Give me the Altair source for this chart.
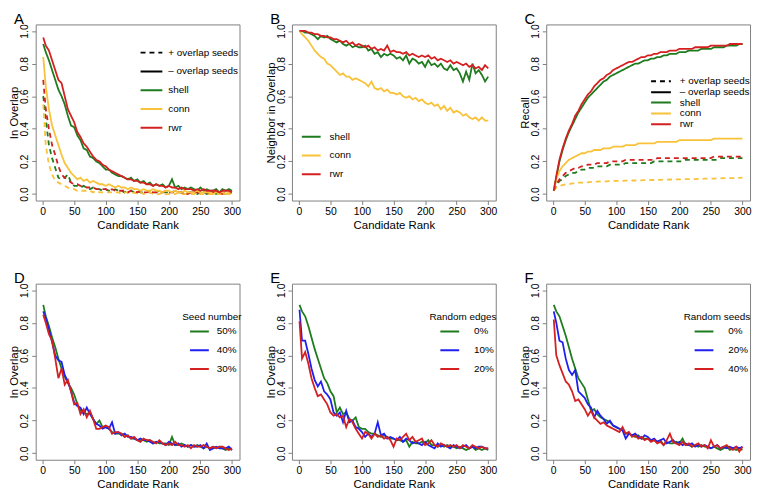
import altair as alt
import pandas as pd

# ---------------- data ----------------
RANK = [1] + list(range(5, 301, 5))

X_TICKS = [0, 50, 100, 150, 200, 250, 300]
Y_TICKS = [0.0, 0.2, 0.4, 0.6, 0.8, 1.0]

METHODS = ["shell", "conn", "rwr"]
DASH_NAMES = ["+ overlap seeds", "\u2013 overlap seeds"]

# Panel A: In Overlap
A_SHELL = [0.92, 0.87, 0.82, 0.76, 0.70, 0.64, 0.60, 0.55, 0.48, 0.42,
           0.41, 0.36, 0.33, 0.28, 0.27, 0.23, 0.22, 0.20, 0.19, 0.17,
           0.15, 0.15, 0.13, 0.12, 0.11, 0.11, 0.10, 0.09, 0.10, 0.08,
           0.09, 0.07, 0.08, 0.06, 0.07, 0.05, 0.06, 0.05, 0.06, 0.04,
           0.05, 0.09, 0.04, 0.05, 0.03, 0.04, 0.03, 0.04, 0.03, 0.02,
           0.04, 0.02, 0.03, 0.02, 0.02, 0.03, 0.01, 0.03, 0.02, 0.03,
           0.02]
A_CONN = [0.84, 0.66, 0.52, 0.42, 0.36, 0.30, 0.24, 0.19, 0.16, 0.13,
          0.11, 0.09, 0.10, 0.08, 0.09, 0.07, 0.08, 0.07, 0.06, 0.06,
          0.05, 0.06, 0.05, 0.04, 0.05, 0.04, 0.04, 0.03, 0.04, 0.03,
          0.03, 0.02, 0.03, 0.02, 0.02, 0.03, 0.02, 0.02, 0.01, 0.02,
          0.02, 0.01, 0.02, 0.01, 0.01, 0.02, 0.01, 0.01, 0.01, 0.02,
          0.01, 0.01, 0.01, 0.01, 0.00, 0.01, 0.01, 0.01, 0.00, 0.01,
          0.01]
A_RWR = [0.96, 0.91, 0.88, 0.82, 0.76, 0.70, 0.68, 0.60, 0.52, 0.48,
         0.44, 0.38, 0.35, 0.31, 0.29, 0.26, 0.23, 0.21, 0.20, 0.18,
         0.17, 0.15, 0.14, 0.13, 0.12, 0.11, 0.10, 0.09, 0.09, 0.08,
         0.08, 0.07, 0.07, 0.06, 0.06, 0.05, 0.06, 0.05, 0.05, 0.04,
         0.05, 0.04, 0.04, 0.03, 0.04, 0.03, 0.03, 0.03, 0.02, 0.03,
         0.02, 0.03, 0.02, 0.02, 0.02, 0.02, 0.01, 0.02, 0.02, 0.02,
         0.01]
A_SHELL_D = [0.60, 0.46, 0.30, 0.22, 0.16, 0.10, 0.09, 0.10, 0.12, 0.07,
             0.05, 0.05, 0.04, 0.05, 0.04, 0.03, 0.04, 0.03, 0.03, 0.02,
             0.03, 0.02, 0.02, 0.03, 0.02, 0.02, 0.01, 0.02, 0.02, 0.01,
             0.02, 0.01, 0.01, 0.02, 0.01, 0.01, 0.01, 0.02, 0.01, 0.01,
             0.01, 0.01, 0.02, 0.01, 0.01, 0.00, 0.01, 0.01, 0.01, 0.00,
             0.01, 0.01, 0.00, 0.01, 0.01, 0.00, 0.01, 0.01, 0.00, 0.01,
             0.01]
A_CONN_D = [0.55, 0.30, 0.18, 0.12, 0.08, 0.07, 0.06, 0.05, 0.04, 0.03,
            0.03, 0.02, 0.02, 0.02, 0.02, 0.02, 0.01, 0.02, 0.01, 0.01,
            0.01, 0.01, 0.01, 0.01, 0.01, 0.00, 0.01, 0.01, 0.00, 0.01,
            0.00, 0.01, 0.00, 0.00, 0.01, 0.00, 0.00, 0.00, 0.01, 0.00,
            0.00, 0.00, 0.00, 0.01, 0.00, 0.00, 0.00, 0.00, 0.00, 0.01,
            0.00, 0.00, 0.00, 0.00, 0.00, 0.00, 0.00, 0.00, 0.00, 0.00,
            0.00]
A_RWR_D = [0.70, 0.52, 0.40, 0.30, 0.24, 0.17, 0.12, 0.10, 0.09, 0.07,
           0.06, 0.06, 0.05, 0.05, 0.04, 0.04, 0.04, 0.03, 0.03, 0.03,
           0.03, 0.02, 0.03, 0.02, 0.02, 0.02, 0.02, 0.01, 0.02, 0.02,
           0.01, 0.02, 0.01, 0.01, 0.02, 0.01, 0.01, 0.01, 0.01, 0.02,
           0.01, 0.01, 0.01, 0.01, 0.01, 0.01, 0.00, 0.01, 0.01, 0.01,
           0.01, 0.01, 0.01, 0.00, 0.01, 0.01, 0.01, 0.00, 0.01, 0.01,
           0.01]

# Panel B: Neighbor in Overlap
B_SHELL = [1.00, 1.00, 0.99, 0.99, 0.98, 0.97, 0.95, 0.97, 0.96, 0.97,
           0.95, 0.94, 0.93, 0.94, 0.92, 0.91, 0.92, 0.90, 0.91, 0.90,
           0.90, 0.91, 0.88, 0.89, 0.86, 0.87, 0.84, 0.86, 0.85, 0.86,
           0.85, 0.83, 0.84, 0.82, 0.85, 0.80, 0.83, 0.82, 0.80, 0.81,
           0.78, 0.82, 0.79, 0.80, 0.78, 0.80, 0.77, 0.76, 0.79, 0.76,
           0.77, 0.74, 0.69, 0.75, 0.70, 0.80, 0.74, 0.76, 0.73, 0.69,
           0.72]
B_CONN = [1.00, 0.98, 0.96, 0.94, 0.91, 0.88, 0.86, 0.84, 0.83, 0.80,
          0.79, 0.77, 0.75, 0.73, 0.74, 0.72, 0.72, 0.70, 0.71, 0.70,
          0.69, 0.68, 0.66, 0.69, 0.65, 0.64, 0.65, 0.63, 0.64, 0.62,
          0.62, 0.61, 0.62, 0.60, 0.59, 0.60, 0.58, 0.59, 0.57, 0.58,
          0.56, 0.55, 0.56, 0.54, 0.55, 0.52, 0.54, 0.51, 0.53, 0.50,
          0.51, 0.50, 0.48, 0.49, 0.47, 0.46, 0.47, 0.45, 0.47, 0.45,
          0.45]
B_RWR = [1.00, 1.00, 1.00, 0.99, 0.99, 0.98, 0.98, 0.97, 0.97, 0.96,
         0.96, 0.95, 0.95, 0.94, 0.93, 0.94, 0.92, 0.93, 0.91, 0.92,
         0.91, 0.90, 0.91, 0.89, 0.90, 0.88, 0.89, 0.88, 0.91, 0.87,
         0.88, 0.87, 0.87, 0.86, 0.87, 0.85, 0.86, 0.85, 0.84, 0.85,
         0.84, 0.85, 0.83, 0.84, 0.82, 0.83, 0.82, 0.81, 0.82, 0.80,
         0.81, 0.80, 0.79, 0.80, 0.78, 0.79, 0.77, 0.78, 0.76, 0.79,
         0.77]

# Panel C: Recall
C_SHELL = [0.02, 0.10, 0.20, 0.27, 0.33, 0.38, 0.42, 0.46, 0.50, 0.53,
           0.56, 0.59, 0.61, 0.63, 0.65, 0.67, 0.69, 0.70, 0.72, 0.73,
           0.74, 0.75, 0.76, 0.77, 0.78, 0.79, 0.80, 0.80, 0.81, 0.82,
           0.82, 0.83, 0.83, 0.84, 0.84, 0.85, 0.85, 0.86, 0.86, 0.86,
           0.87, 0.87, 0.87, 0.88, 0.88, 0.88, 0.88, 0.89, 0.89, 0.89,
           0.89, 0.90, 0.90, 0.90, 0.90, 0.91, 0.91, 0.91, 0.91, 0.92,
           0.92]
C_CONN = [0.02, 0.09, 0.14, 0.17, 0.19, 0.21, 0.22, 0.23, 0.24, 0.25,
          0.25, 0.26, 0.26, 0.27, 0.27, 0.27, 0.28, 0.28, 0.28, 0.29,
          0.29, 0.29, 0.29, 0.30, 0.30, 0.30, 0.30, 0.31, 0.31, 0.31,
          0.31, 0.31, 0.31, 0.32, 0.32, 0.32, 0.32, 0.32, 0.32, 0.32,
          0.33, 0.33, 0.33, 0.33, 0.33, 0.33, 0.33, 0.33, 0.33, 0.33,
          0.33, 0.34, 0.34, 0.34, 0.34, 0.34, 0.34, 0.34, 0.34, 0.34,
          0.34]
C_RWR = [0.02, 0.11, 0.21, 0.28, 0.34, 0.39, 0.43, 0.48, 0.51, 0.55,
         0.58, 0.61, 0.63, 0.66, 0.68, 0.70, 0.71, 0.73, 0.74, 0.76,
         0.77, 0.78, 0.79, 0.80, 0.81, 0.81, 0.82, 0.83, 0.84, 0.84,
         0.85, 0.85, 0.86, 0.86, 0.87, 0.87, 0.87, 0.88, 0.88, 0.88,
         0.89, 0.89, 0.89, 0.89, 0.89, 0.90, 0.90, 0.90, 0.90, 0.90,
         0.91, 0.91, 0.91, 0.91, 0.91, 0.91, 0.92, 0.92, 0.92, 0.92,
         0.92]
C_SHELL_D = [0.02, 0.05, 0.08, 0.09, 0.11, 0.12, 0.13, 0.13, 0.14, 0.15,
             0.15, 0.16, 0.16, 0.16, 0.17, 0.17, 0.17, 0.17, 0.18, 0.18,
             0.18, 0.18, 0.18, 0.19, 0.19, 0.19, 0.19, 0.19, 0.19, 0.19,
             0.19, 0.19, 0.20, 0.20, 0.20, 0.20, 0.20, 0.20, 0.20, 0.20,
             0.20, 0.20, 0.21, 0.21, 0.21, 0.21, 0.21, 0.21, 0.21, 0.21,
             0.21, 0.21, 0.21, 0.22, 0.22, 0.22, 0.22, 0.22, 0.22, 0.22,
             0.22]
C_CONN_D = [0.02, 0.04, 0.05, 0.055, 0.06, 0.06, 0.065, 0.065, 0.07, 0.07,
            0.07, 0.072, 0.074, 0.075, 0.076, 0.077, 0.078, 0.078, 0.079, 0.08,
            0.08, 0.08, 0.081, 0.082, 0.082, 0.083, 0.083, 0.084, 0.084, 0.085,
            0.085, 0.086, 0.086, 0.087, 0.087, 0.088, 0.088, 0.089, 0.089, 0.09,
            0.09, 0.09, 0.091, 0.091, 0.092, 0.092, 0.093, 0.093, 0.094, 0.094,
            0.095, 0.095, 0.096, 0.096, 0.097, 0.097, 0.098, 0.098, 0.099, 0.099,
            0.10]
C_RWR_D = [0.02, 0.06, 0.09, 0.11, 0.13, 0.14, 0.15, 0.16, 0.16, 0.17,
           0.17, 0.18, 0.18, 0.18, 0.19, 0.19, 0.19, 0.19, 0.20, 0.20,
           0.20, 0.20, 0.20, 0.21, 0.21, 0.21, 0.21, 0.21, 0.21, 0.21,
           0.21, 0.21, 0.21, 0.22, 0.22, 0.22, 0.22, 0.22, 0.22, 0.22,
           0.22, 0.22, 0.22, 0.22, 0.22, 0.22, 0.22, 0.22, 0.22, 0.22,
           0.22, 0.23, 0.23, 0.23, 0.23, 0.23, 0.23, 0.23, 0.23, 0.23,
           0.23]

# Panel D: Seed number
D_NAMES = ["50%", "40%", "30%"]
D_50 = [0.91, 0.84, 0.78, 0.71, 0.65, 0.58, 0.52, 0.47, 0.43, 0.40,
        0.36, 0.30, 0.26, 0.25, 0.24, 0.25, 0.21, 0.18, 0.20, 0.16,
        0.16, 0.15, 0.13, 0.12, 0.12, 0.12, 0.10, 0.11, 0.09, 0.09,
        0.08, 0.08, 0.08, 0.07, 0.08, 0.06, 0.07, 0.06, 0.06, 0.06,
        0.05, 0.10, 0.05, 0.05, 0.06, 0.05, 0.04, 0.05, 0.04, 0.05,
        0.04, 0.03, 0.04, 0.03, 0.04, 0.03, 0.04, 0.03, 0.02, 0.03,
        0.02]
D_40 = [0.87, 0.83, 0.76, 0.68, 0.60, 0.57, 0.56, 0.48, 0.44, 0.38,
        0.31, 0.29, 0.28, 0.24, 0.28, 0.24, 0.21, 0.18, 0.17, 0.15,
        0.16, 0.15, 0.19, 0.12, 0.13, 0.11, 0.12, 0.10, 0.10, 0.09,
        0.08, 0.09, 0.08, 0.08, 0.07, 0.06, 0.07, 0.07, 0.06, 0.05,
        0.07, 0.06, 0.05, 0.06, 0.04, 0.05, 0.04, 0.05, 0.04, 0.04,
        0.05, 0.03, 0.06, 0.02, 0.03, 0.04, 0.03, 0.03, 0.03, 0.04,
        0.02]
D_30 = [0.85, 0.80, 0.73, 0.69, 0.58, 0.46, 0.52, 0.42, 0.45, 0.38,
        0.30, 0.31, 0.24, 0.27, 0.22, 0.26, 0.21, 0.15, 0.15, 0.16,
        0.17, 0.16, 0.12, 0.13, 0.13, 0.12, 0.10, 0.11, 0.09, 0.10,
        0.08, 0.07, 0.09, 0.08, 0.08, 0.07, 0.06, 0.08, 0.06, 0.05,
        0.06, 0.05, 0.07, 0.05, 0.05, 0.04, 0.05, 0.03, 0.05, 0.04,
        0.04, 0.05, 0.04, 0.03, 0.04, 0.03, 0.04, 0.04, 0.03, 0.02,
        0.03]

# Panel E: Random edges
E_NAMES = ["0%", "10%", "20%"]
E_0 = [0.91, 0.87, 0.84, 0.78, 0.71, 0.64, 0.58, 0.52, 0.46, 0.43,
       0.38, 0.35, 0.25, 0.28, 0.24, 0.25, 0.21, 0.20, 0.22, 0.16,
       0.15, 0.15, 0.13, 0.12, 0.12, 0.11, 0.10, 0.11, 0.10, 0.09,
       0.09, 0.08, 0.08, 0.07, 0.08, 0.04, 0.07, 0.06, 0.06, 0.07,
       0.06, 0.08, 0.05, 0.05, 0.04, 0.05, 0.04, 0.05, 0.04, 0.04,
       0.03, 0.04, 0.03, 0.02, 0.03, 0.04, 0.02, 0.03, 0.02, 0.03,
       0.02]
E_10 = [0.88, 0.69, 0.69, 0.61, 0.52, 0.45, 0.41, 0.44, 0.38, 0.36,
        0.33, 0.25, 0.23, 0.25, 0.19, 0.26, 0.19, 0.20, 0.16, 0.15,
        0.13, 0.10, 0.12, 0.10, 0.12, 0.19, 0.11, 0.12, 0.09, 0.10,
        0.09, 0.08, 0.10, 0.07, 0.09, 0.08, 0.06, 0.07, 0.06, 0.05,
        0.07, 0.05, 0.04, 0.03, 0.06, 0.04, 0.05, 0.04, 0.03, 0.05,
        0.04, 0.03, 0.04, 0.05, 0.03, 0.04, 0.03, 0.04, 0.04, 0.03,
        0.03]
E_20 = [0.81, 0.58, 0.62, 0.55, 0.46, 0.40, 0.35, 0.36, 0.33, 0.30,
        0.25, 0.23, 0.24, 0.22, 0.23, 0.16, 0.21, 0.19, 0.15, 0.12,
        0.09, 0.13, 0.12, 0.09, 0.12, 0.10, 0.11, 0.09, 0.10, 0.08,
        0.04, 0.09, 0.08, 0.10, 0.12, 0.08, 0.10, 0.07, 0.08, 0.09,
        0.05, 0.06, 0.08, 0.05, 0.04, 0.06, 0.05, 0.04, 0.05, 0.04,
        0.05, 0.03, 0.05, 0.04, 0.03, 0.05, 0.04, 0.03, 0.04, 0.03,
        0.03]

# Panel F: Random seeds
F_NAMES = ["0%", "20%", "40%"]
F_0 = [0.91, 0.87, 0.84, 0.78, 0.72, 0.65, 0.58, 0.52, 0.46, 0.43,
       0.40, 0.33, 0.26, 0.27, 0.24, 0.22, 0.21, 0.20, 0.19, 0.17,
       0.16, 0.15, 0.14, 0.12, 0.12, 0.11, 0.10, 0.11, 0.09, 0.09,
       0.09, 0.08, 0.08, 0.07, 0.08, 0.05, 0.07, 0.06, 0.06, 0.07,
       0.06, 0.09, 0.05, 0.05, 0.04, 0.05, 0.04, 0.05, 0.04, 0.04,
       0.03, 0.04, 0.03, 0.02, 0.03, 0.04, 0.02, 0.03, 0.02, 0.03,
       0.02]
F_20 = [0.87, 0.80, 0.69, 0.68, 0.58, 0.51, 0.48, 0.51, 0.38, 0.36,
        0.34, 0.30, 0.28, 0.22, 0.26, 0.23, 0.21, 0.18, 0.20, 0.17,
        0.16, 0.15, 0.14, 0.09, 0.12, 0.11, 0.12, 0.10, 0.09, 0.11,
        0.10, 0.08, 0.09, 0.07, 0.08, 0.09, 0.06, 0.07, 0.08, 0.06,
        0.07, 0.05, 0.06, 0.05, 0.06, 0.04, 0.05, 0.04, 0.05, 0.04,
        0.03, 0.04, 0.05, 0.03, 0.04, 0.03, 0.04, 0.03, 0.04, 0.03,
        0.04]
F_40 = [0.82, 0.60, 0.54, 0.49, 0.44, 0.42, 0.38, 0.32, 0.33, 0.30,
        0.27, 0.23, 0.26, 0.22, 0.20, 0.18, 0.19, 0.17, 0.16, 0.15,
        0.14, 0.13, 0.16, 0.12, 0.13, 0.10, 0.11, 0.09, 0.10, 0.08,
        0.09, 0.07, 0.08, 0.06, 0.07, 0.05, 0.08, 0.12, 0.07, 0.06,
        0.05, 0.07, 0.05, 0.06, 0.04, 0.05, 0.06, 0.04, 0.05, 0.03,
        0.08, 0.04, 0.05, 0.03, 0.04, 0.05, 0.03, 0.02, 0.04, 0.01,
        0.04]

# ---------------- styling ----------------
FONT = "Liberation Sans"
GREEN = "#1E7B1E"
YELLOW = "#F8C23A"
RED = "#D42020"
BLUE = "#1F1FF2"
FRAME = "#808080"

XDOM = [-10.96, 311.96]
YDOM = [-0.04, 1.04]
W, H = 206, 178


def frame(series):
    rows = []
    for name, kind, vals in series:
        for r, v in zip(RANK, vals):
            rows.append({"rank": r, "value": v, "series": name, "kind": kind})
    return pd.DataFrame(rows)


def legend(x, y, clip, size, sym_off=0, lab_off=5, title=None, black=False):
    kw = dict(orient="none", legendX=x, legendY=y, clipHeight=clip,
              rowPadding=0, padding=0, symbolType="stroke", symbolSize=size,
              symbolStrokeWidth=2, symbolOffset=sym_off, labelOffset=lab_off,
              labelFont=FONT, labelFontSize=10, labelColor="black",
              labelAlign="left", labelLimit=200)
    if black:
        kw["symbolStrokeColor"] = "black"
    if title is None:
        kw["title"] = None
    else:
        kw.update(title=title, titleFont=FONT, titleFontSize=10,
                  titleFontWeight="normal", titleColor="black",
                  titlePadding=0, titleLimit=200)
    return alt.Legend(**kw)


def panel(df, letter, ytitle, names, colors, color_leg, dash_leg=None):
    enc = dict(
        x=alt.X("rank:Q",
                scale=alt.Scale(domain=XDOM, nice=False, zero=False),
                axis=alt.Axis(values=X_TICKS, format="d",
                              title="Candidate Rank")),
        y=alt.Y("value:Q",
                scale=alt.Scale(domain=YDOM, nice=False, zero=False),
                axis=alt.Axis(values=Y_TICKS, format=".1f", title=ytitle,
                              labelAngle=270, labelAlign="center",
                              labelBaseline="bottom")),
        color=alt.Color("series:N", sort=names,
                        scale=alt.Scale(domain=names, range=colors),
                        legend=color_leg),
    )
    if dash_leg is not None:
        enc["strokeDash"] = alt.StrokeDash(
            "kind:N", sort=DASH_NAMES,
            scale=alt.Scale(domain=DASH_NAMES, range=[[5, 4], [1, 0]]),
            legend=dash_leg)
    return (
        alt.Chart(df)
        .mark_line(strokeWidth=1.8, clip=True, color="black")
        .encode(**enc)
        .properties(width=W, height=H, title=alt.TitleParams(text=letter))
    )


SOLID, DASHED = DASH_NAMES[1], DASH_NAMES[0]
MCOL = [GREEN, YELLOW, RED]
PCOL = [GREEN, BLUE, RED]

dfA = frame([("shell", DASHED, A_SHELL_D), ("conn", DASHED, A_CONN_D),
             ("rwr", DASHED, A_RWR_D), ("shell", SOLID, A_SHELL),
             ("conn", SOLID, A_CONN), ("rwr", SOLID, A_RWR)])
dfB = frame([("shell", SOLID, B_SHELL), ("conn", SOLID, B_CONN),
             ("rwr", SOLID, B_RWR)])
dfC = frame([("shell", DASHED, C_SHELL_D), ("conn", DASHED, C_CONN_D),
             ("rwr", DASHED, C_RWR_D), ("shell", SOLID, C_SHELL),
             ("conn", SOLID, C_CONN), ("rwr", SOLID, C_RWR)])
dfD = frame([(D_NAMES[0], SOLID, D_50), (D_NAMES[1], SOLID, D_40),
             (D_NAMES[2], SOLID, D_30)])
dfE = frame([(E_NAMES[0], SOLID, E_0), (E_NAMES[1], SOLID, E_10),
             (E_NAMES[2], SOLID, E_20)])
dfF = frame([(F_NAMES[0], SOLID, F_0), (F_NAMES[1], SOLID, F_20),
             (F_NAMES[2], SOLID, F_40)])

pA = panel(dfA, "A", "In Overlap", METHODS, MCOL,
           legend(105, 57, 19, 484, lab_off=5),
           legend(105, 19, 19, 484, lab_off=5, black=True))
pB = panel(dfB, "B", "Neighbor in Overlap", METHODS, MCOL,
           legend(9, 104, 19, 361, lab_off=8))
pC = panel(dfC, "C", "Recall", METHODS, MCOL,
           legend(105, 73.5, 11, 400, lab_off=8),
           legend(105, 52, 11, 400, lab_off=8, black=True))
pD = panel(dfD, "D", "In Overlap", D_NAMES, PCOL,
           legend(148, 29, 18.5, 361, sym_off=7, lab_off=7,
                  title="Seed number"))
pE = panel(dfE, "E", "In Overlap", E_NAMES, PCOL,
           legend(139, 29, 18.5, 361, sym_off=10, lab_off=14,
                  title="Random edges"))
pF = panel(dfF, "F", "In Overlap", F_NAMES, PCOL,
           legend(139, 29, 18.5, 361, sym_off=10, lab_off=14,
                  title="Random seeds"))

chart = (
    alt.concat(pA, pB, pC, pD, pE, pF, columns=3,
               spacing={"row": 38, "column": 21},
               padding={"left": 0, "top": 0, "right": 0, "bottom": 0},
               background="white")
    .resolve_scale(color="independent", strokeDash="independent",
                   x="independent", y="independent")
    .resolve_legend(color="independent", strokeDash="independent")
    .configure_view(stroke=FRAME, strokeWidth=1)
    .configure_mark(color="black")
    .configure_axis(domain=False, grid=False, tickColor=FRAME, tickSize=4,
                    tickWidth=1, labelFont=FONT, labelFontSize=10.5,
                    labelColor="black", titleFont=FONT, titleFontSize=11.5,
                    titleFontWeight="normal", titleColor="black",
                    labelFlush=False, labelOverlap=False)
    .configure_axisX(labelPadding=2, titlePadding=3)
    .configure_axisY(labelPadding=2, titlePadding=0)
    .configure_title(font=FONT, fontSize=15, fontWeight="normal",
                     anchor="start", frame="group", dx=-22, offset=-3,
                     color="black")
)

chart.save("out.html", embed_options={"renderer": "svg", "actions": False})
